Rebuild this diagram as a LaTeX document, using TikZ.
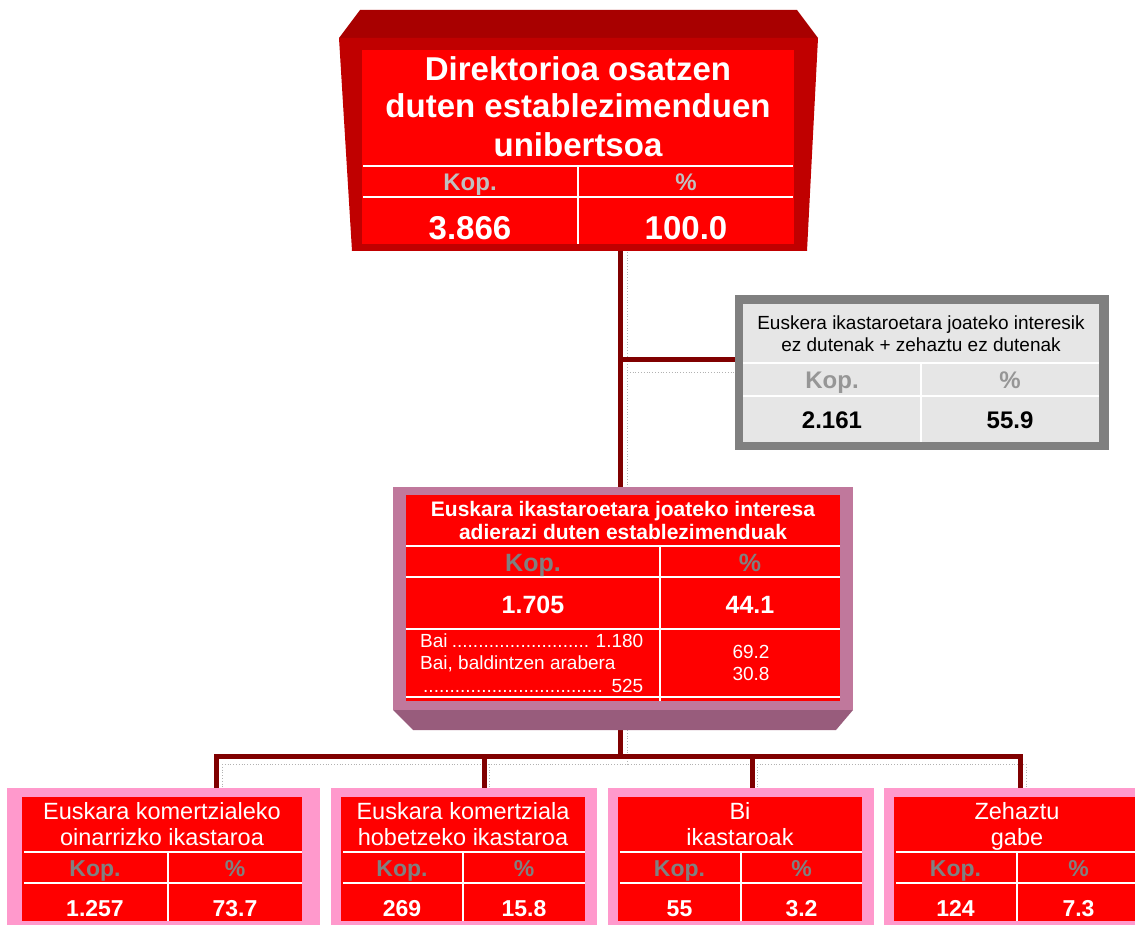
\documentclass[tikz,border=0pt]{standalone}
\usepackage{fontspec}
\setmainfont{Liberation Sans}
\usetikzlibrary{backgrounds}

\definecolor{boxred}{HTML}{FF0000}
\definecolor{bodyred}{HTML}{C00000}
\definecolor{topred}{HTML}{A80000}
\definecolor{connred}{HTML}{800000}
\definecolor{mauve}{HTML}{C0789C}
\definecolor{mauvedark}{HTML}{985C7C}
\definecolor{pinkframe}{HTML}{FF99CC}
\definecolor{greyframe}{HTML}{808080}
\definecolor{greycell}{HTML}{E6E6E6}
\definecolor{koplight}{HTML}{C0C0C0}
\definecolor{kopgrey}{HTML}{808080}
\definecolor{kopsoft}{HTML}{969696}

\newcommand{\fsz}[1]{\fontsize{#1}{#1}\selectfont}

\tikzset{
  cell/.style={inner sep=0pt, outer sep=0pt},
  whiteline/.style={draw=white, line width=2pt},
  conn/.style={draw=connred, line width=5pt},
  shadowline/.style={draw=gray!60, dotted, line width=0.8pt},
  txt/.style={anchor=base, inner sep=0pt},
  bigtxt/.style={txt, text=white, font=\fsz{33}\bfseries},
  midtitle/.style={txt, text=white, font=\fsz{21}\bfseries},
  midnum/.style={txt, text=white, font=\fsz{25}\bfseries},
  smalltxt/.style={txt, text=white, font=\fsz{19}},
  subtitle/.style={txt, text=white, font=\fsz{23.5}},
  subnum/.style={txt, text=white, font=\fsz{23}\bfseries},
  kop/.style={txt, text=kopgrey, font=\fsz{23}\bfseries}
}

\begin{document}
\begin{tikzpicture}[x=1pt, y=-1pt]
\useasboundingbox (0,0) rectangle (1135,925);
\clip (0,0) rectangle (1135,925);

% Top box
\fill[topred] (360,10) -- (797,10) -- (818,38) -- (339,38) -- cycle;
\fill[bodyred] (339,38) -- (818,38) -- (807,251) -- (352,251) -- cycle;
\node[cell, fill=boxred, minimum width=432pt, minimum height=194pt] (univ) at (578,147) {};
\node[bigtxt] at (578,81) {Direktorioa osatzen};
\node[bigtxt] at (578,118) {duten establezimenduen};
\node[bigtxt] at (578,157) {unibertsoa};
\draw[whiteline] (363,166) -- (793,166);
\draw[whiteline] (363,197) -- (793,197);
\draw[whiteline] (578,166) -- (578,244);
\node[kop, text=koplight, font=\fsz{24}\bfseries] at (470,191) {Kop.};
\node[kop, text=koplight, font=\fsz{24}\bfseries] at (686,191) {\%};
\node[bigtxt] at (470,240) {3.866};
\node[bigtxt] at (686,240) {100.0};

% Grey box
\node[cell, fill=greyframe, minimum width=374pt, minimum height=155pt] (nointerest) at (922,372.5) {};
\fill[greycell] (743,304) rectangle (1099,442);
\node[txt, font=\fsz{19}] at (921,329) {Euskera ikastaroetara joateko interesik};
\node[txt, font=\fsz{19}] at (921,351) {ez dutenak + zehaztu ez dutenak};
\draw[whiteline] (743,363) -- (1099,363);
\draw[whiteline] (743,396) -- (1099,396);
\draw[whiteline] (921,363) -- (921,442);
\node[kop, text=kopsoft, font=\fsz{24}\bfseries] at (832,388) {Kop.};
\node[kop, text=kopsoft, font=\fsz{24}\bfseries] at (1010,388) {\%};
\node[txt, font=\fsz{24}\bfseries] at (832,428) {2.161};
\node[txt, font=\fsz{24}\bfseries] at (1010,428) {55.9};

% Middle box
\node[cell, fill=mauve, minimum width=460pt, minimum height=223pt] (interest) at (623,598.5) {};
\fill[mauvedark] (393,710) -- (853,710) -- (836,730) -- (413,730) -- cycle;
\fill[boxred] (406,495) rectangle (840,701);
\node[midtitle] at (623,516) {Euskara ikastaroetara joateko interesa};
\node[midtitle] at (623,539) {adierazi duten establezimenduak};
\draw[whiteline] (406,546) -- (840,546);
\draw[whiteline] (406,577) -- (840,577);
\draw[whiteline] (406,629) -- (840,629);
\draw[whiteline] (406,697) -- (840,697);
\draw[whiteline] (660,546) -- (660,701);
\node[kop, font=\fsz{25}\bfseries] at (533,571) {Kop.};
\node[kop, font=\fsz{25}\bfseries] at (750,571) {\%};
\node[midnum] at (533,613) {1.705};
\node[midnum] at (750,613) {44.1};
\node[smalltxt, anchor=base west] at (420,647) {\hbox to 223pt{Bai\leaders\hbox{.}\hfill\ 1.180}};
\node[smalltxt, anchor=base west] at (420,669) {Bai, baldintzen arabera};
\node[smalltxt, anchor=base west] at (423,692) {\hbox to 220pt{\leaders\hbox{.}\hfill\ 525}};
\node[smalltxt] at (751,658) {69.2};
\node[smalltxt] at (751,680) {30.8};

% Bottom boxes
\foreach \name/\pl/\pr/\il/\ir/\dv/\la/\lb/\n/\p in {
  basic/7/320/22/302/168/{Euskara komertzialeko}/{oinarrizko ikastaroa}/1.257/73.7,
  improve/331/597/341/585/463/{Euskara komertziala}/{hobetzeko ikastaroa}/269/15.8,
  both/608/874/618/862/741/{Bi}/{ikastaroak}/55/3.2,
  unspec/884/1160/894/1140/1017/{Zehaztu}/{gabe}/124/7.3}{
  \pgfmathsetmacro{\bw}{\pr-\pl}
  \pgfmathsetmacro{\bc}{(\pr+\pl)/2}
  \node[cell, fill=pinkframe, minimum width=\bw pt, minimum height=142pt] (\name) at (\bc,859) {};
  \fill[boxred] (\il,797) rectangle (\ir,921);
  \node[subtitle] at ({(\il+\ir)/2},819) {\la};
  \node[subtitle] at ({(\il+\ir)/2},845) {\lb};
  \draw[whiteline] (\il+2,852) -- (\ir,852);
  \draw[whiteline] (\il+2,883) -- (\ir,883);
  \draw[whiteline] (\dv,852) -- (\dv,921);
  \node[kop] at ({(\il+\dv)/2},876) {Kop.};
  \node[kop] at ({(\dv+\ir)/2},876) {\%};
  \node[subnum] at ({(\il+\dv)/2},916) {\n};
  \node[subnum] at ({(\dv+\ir)/2},916) {\p};
}

% Connectors
\begin{scope}[on background layer]
\fill[white] (0,0) rectangle (1135,925);
\coordinate (trunk) at (620,0);
\coordinate (branch) at (620,359.5);
\coordinate (bar) at (620,756.5);
% shadows
\draw[shadowline] (627,252) -- (627,487);
\draw[shadowline] (627,372) -- (735,372);
\draw[shadowline] (627,730) -- (627,764);
\draw[shadowline] (222,764) -- (1026,764);
\foreach \sx in {222,489,757,1026}
  \draw[shadowline] (\sx,764) -- (\sx,788);
% lines
\draw[conn] (univ.south -| trunk) -- (interest.north -| trunk);
\draw[conn] (branch) -- (branch -| nointerest.west);
\draw[conn] (interest.south -| trunk) -- (bar);
\foreach \name/\cx in {basic/216, improve/484, both/752, unspec/1020}
  \draw[conn] (bar) -| (\name.north -| \cx,0);
\end{scope}

\end{tikzpicture}
\end{document}
